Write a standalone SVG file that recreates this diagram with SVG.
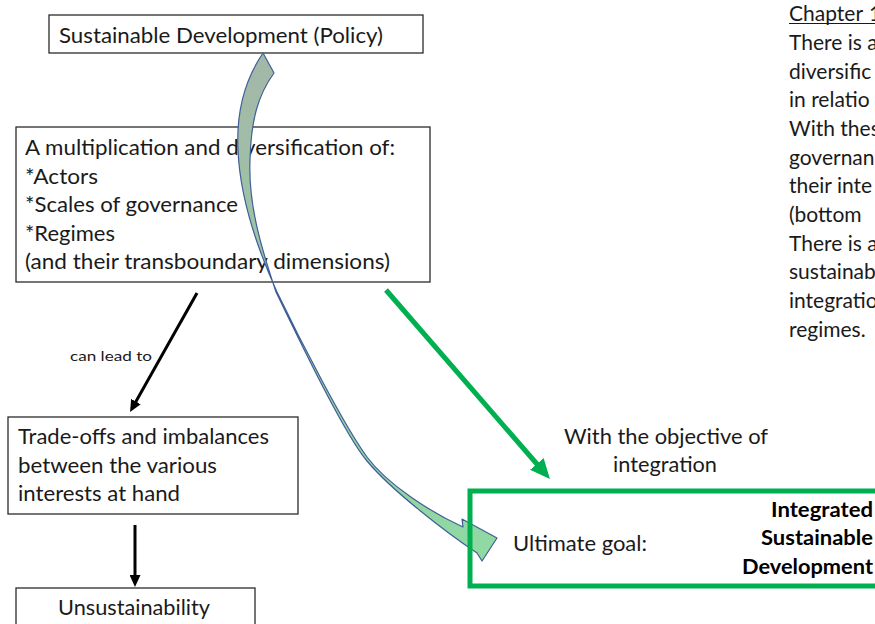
<svg xmlns="http://www.w3.org/2000/svg" width="875" height="624" viewBox="0 0 875 624">
<defs>
<style>
.box{fill:#fff;stroke:#2b2b2b;stroke-width:1.3}
.t{font-family:Lato,"Open Sans","Liberation Sans",sans-serif;font-size:21px;fill:#1a1a1a}
.sm{font-size:14px}
.b{font-weight:bold;fill:#000}
.blk{stroke:#000;stroke-width:3;fill:none}
.grn{stroke:#00b050;stroke-width:5;fill:none}
</style>
<marker id="ahB" markerUnits="userSpaceOnUse" markerWidth="12" markerHeight="11" refX="8" refY="5.5" orient="auto">
<path d="M0,0 L12,5.5 L0,11 z" fill="#000"/>
</marker>
<marker id="ahG" markerUnits="userSpaceOnUse" markerWidth="20" markerHeight="18" refX="14" refY="9" orient="auto">
<path d="M0,0 L20,9 L0,18 z" fill="#00b050"/>
</marker>
<linearGradient id="rib" x1="0" y1="53" x2="0" y2="560" gradientUnits="userSpaceOnUse">
<stop offset="0" stop-color="#a3b7a8"/>
<stop offset="0.5" stop-color="#9cc8a6"/>
<stop offset="1" stop-color="#8fdaa3"/>
</linearGradient>
</defs>

<g id="node-policy">
<rect class="box" x="49" y="15" width="374" height="38"/>
<text class="t" x="59" y="43" textLength="324" lengthAdjust="spacingAndGlyphs">Sustainable Development (Policy)</text>
</g>

<g id="node-multiplication">
<rect class="box" x="16" y="127" width="414" height="155"/>
<text class="t" x="25" y="155" textLength="370" lengthAdjust="spacingAndGlyphs">A multiplication and diversification of:</text>
<text class="t" x="25" y="184" textLength="73" lengthAdjust="spacingAndGlyphs">*Actors</text>
<text class="t" x="25" y="212" textLength="213" lengthAdjust="spacingAndGlyphs">*Scales of governance</text>
<text class="t" x="25" y="241" textLength="90" lengthAdjust="spacingAndGlyphs">*Regimes</text>
<text class="t" x="25" y="269" textLength="365" lengthAdjust="spacingAndGlyphs">(and their transboundary dimensions)</text>
</g>

<g id="node-tradeoffs">
<rect class="box" x="8" y="417" width="290" height="97"/>
<text class="t" x="18" y="444" textLength="251" lengthAdjust="spacingAndGlyphs">Trade-offs and imbalances</text>
<text class="t" x="18" y="473" textLength="199" lengthAdjust="spacingAndGlyphs">between the various</text>
<text class="t" x="18" y="501" textLength="162" lengthAdjust="spacingAndGlyphs">interests at hand</text>
</g>

<g id="node-unsustainability">
<rect class="box" x="16" y="588" width="239" height="60"/>
<text class="t" x="58" y="615" textLength="152" lengthAdjust="spacingAndGlyphs">Unsustainability</text>
</g>

<g id="node-chapter-text">
<text class="t" x="789" y="21">Chapter <tspan x="869">1</tspan></text>
<line x1="789" y1="23.5" x2="875" y2="23.5" stroke="#1a1a1a" stroke-width="1.2"/>
<text class="t" x="789" y="50">There is a</text>
<text class="t" x="789" y="79">diversific</text>
<text class="t" x="789" y="107">in relatio</text>
<text class="t" x="789" y="136">With thes</text>
<text class="t" x="789" y="165">governan</text>
<text class="t" x="789" y="193">their inte</text>
<text class="t" x="789" y="222">(bottom</text>
<text class="t" x="789" y="251">There is a</text>
<text class="t" x="789" y="279">sustainab</text>
<text class="t" x="789" y="308">integratio</text>
<text class="t" x="789" y="337">regimes.</text>
</g>

<g id="connectors">
<line class="blk" x1="197" y1="293" x2="132" y2="408.5" marker-end="url(#ahB)"/>
<text class="t sm" x="70" y="361" textLength="82" lengthAdjust="spacingAndGlyphs">can lead to</text>
<line class="blk" x1="135" y1="525" x2="135" y2="583" marker-end="url(#ahB)"/>
<line class="grn" x1="386" y1="290" x2="546" y2="474.5" marker-end="url(#ahG)"/>
<text class="t" x="564" y="444" textLength="204" lengthAdjust="spacingAndGlyphs">With the objective of</text>
<text class="t" x="613" y="472" textLength="104" lengthAdjust="spacingAndGlyphs">integration</text>
<path d="M263,53 C246,78 236,110 238,150 C240,200 258,250 277,292 C302,344 345,427 367,457 C387,484 430,512 463,527 L462,519 L497,538 L482,561 L477,553 C447,533 392,491 367,461 C345,435 302,346 276,292 C262,250 248,205 250,160 C251,120 258,95 274,73 Z" fill="url(#rib)" stroke="#3f5f96" stroke-width="1.2" stroke-linejoin="round"/>
</g>

<g id="node-goal">
<rect x="470" y="491" width="420" height="95" fill="none" stroke="#00b050" stroke-width="5"/>
<text class="t" x="513" y="551" textLength="134" lengthAdjust="spacingAndGlyphs">Ultimate goal:</text>
<text class="t b" x="873" y="517" text-anchor="end" textLength="102" lengthAdjust="spacingAndGlyphs">Integrated</text>
<text class="t b" x="873" y="545" text-anchor="end" textLength="112" lengthAdjust="spacingAndGlyphs">Sustainable</text>
<text class="t b" x="873" y="574" text-anchor="end" textLength="131" lengthAdjust="spacingAndGlyphs">Development</text>
</g>
</svg>
